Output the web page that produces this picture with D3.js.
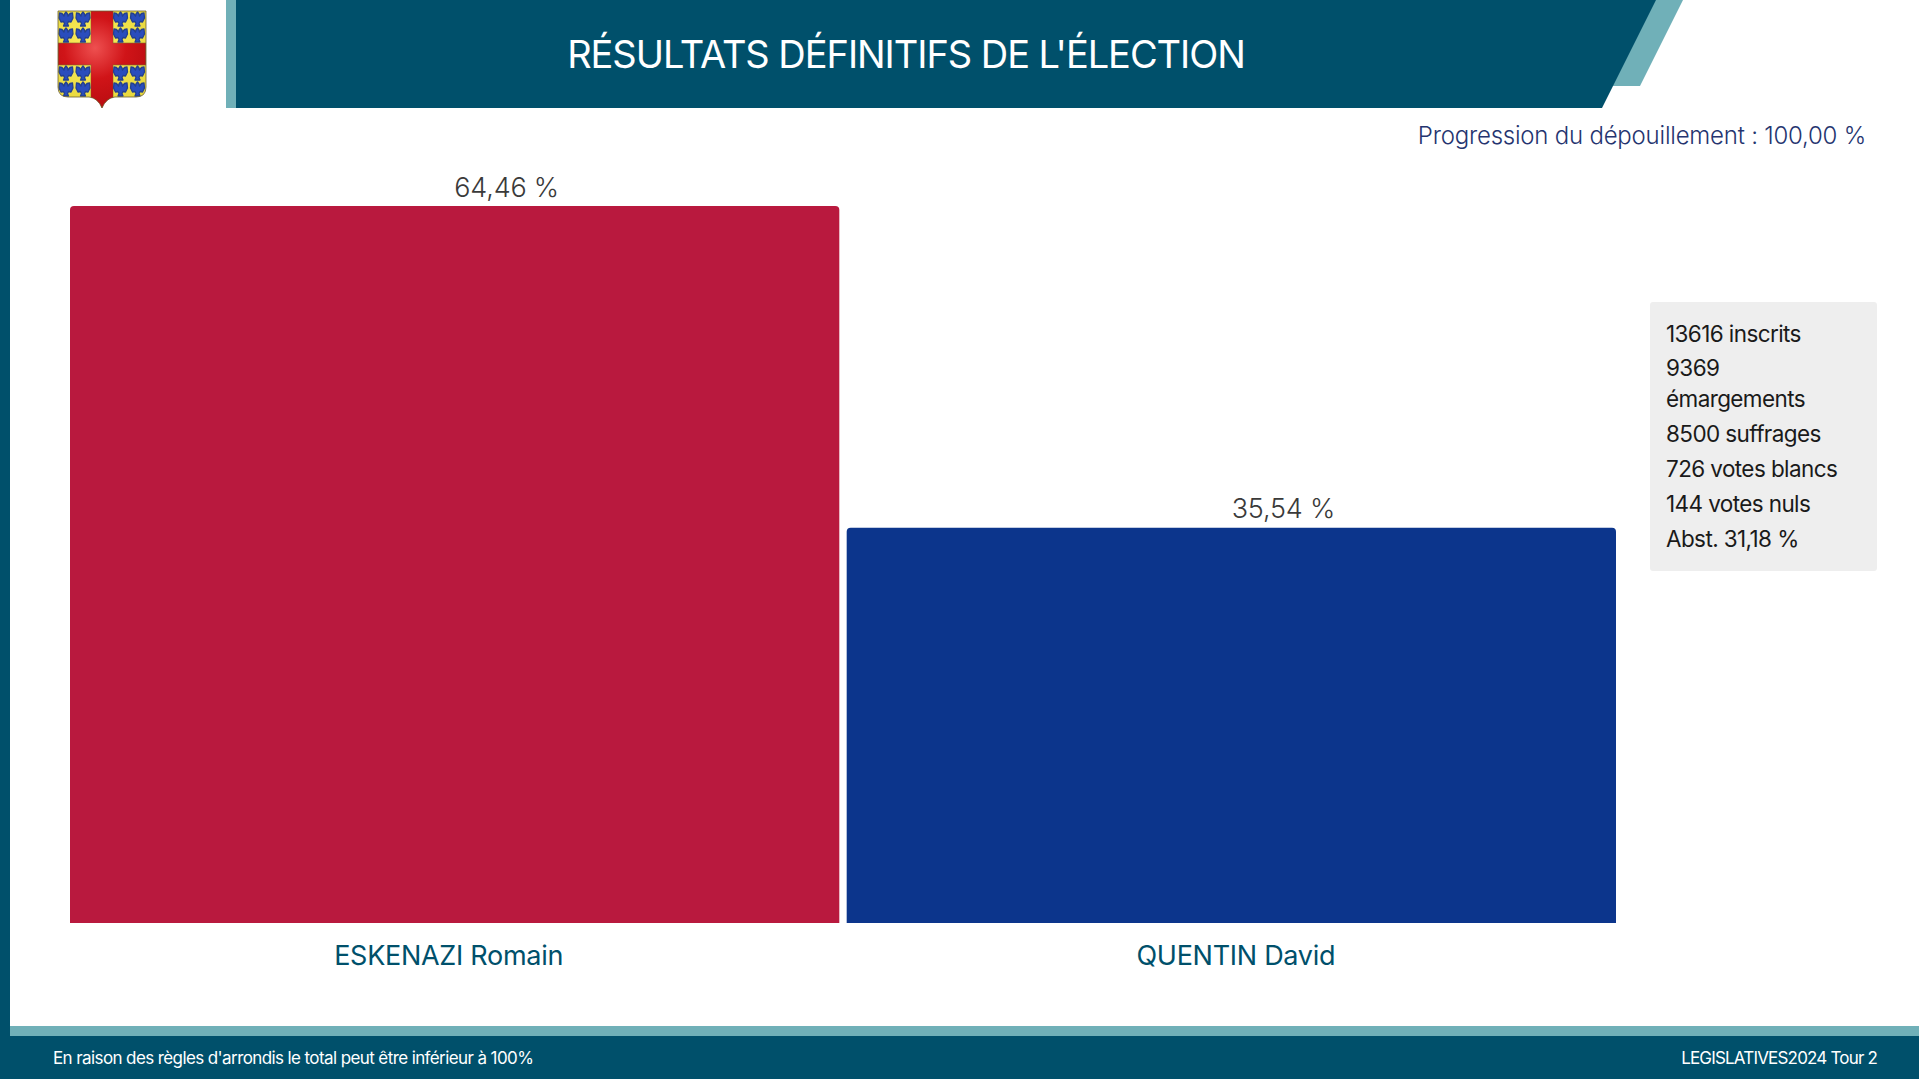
<!DOCTYPE html>
<html><head><meta charset="utf-8">
<script src="https://cdn.jsdelivr.net/npm/d3@7/dist/d3.min.js"></script>
<style>html,body{margin:0;padding:0;background:#fff;overflow:hidden}svg{display:block}text{font-family:Inter,"Open Sans",sans-serif}</style>
</head><body><div id="chart"></div>
<script>
const candidates = ["ESKENAZI Romain", "QUENTIN David"];
const percentages = [64.46, 35.54];
const percentLabels = ["64,46 %", "35,54 %"];
const barColors = ["#b9193e", "#0c358c"];
const statsLines = ["13616 inscrits", "9369", "émargements", "8500 suffrages", "726 votes blancs", "144 votes nuls", "Abst. 31,18 %"];
const titleText = "RÉSULTATS DÉFINITIFS DE L'ÉLECTION";
const progressText = "Progression du dépouillement : 100,00 %";
const footLeft = "En raison des règles d'arrondis le total peut être inférieur à 100%";
const footRight = "LEGISLATIVES2024 Tour 2";

const W = 1919, H = 1079, dark = "#00506b", teal = "#70b0b8";
const svg = d3.select("#chart").append("svg").attr("width", W).attr("height", H);

const x = d3.scaleBand().domain(candidates).range([70, 1616]).paddingInner(0.0095);
const y = d3.scaleLinear().domain([0, 64.46]).range([923, 206]);

// frame
svg.append("rect").attr("x", 0).attr("y", 0).attr("width", 10).attr("height", H).attr("fill", dark);
svg.append("rect").attr("x", 226).attr("y", 0).attr("width", 10).attr("height", 108).attr("fill", teal);
svg.append("path").attr("d", "M1640,0L1683,0L1640,86L1600,86Z").attr("fill", teal);
svg.append("path").attr("d", "M236,0L1656,0L1602,108L236,108Z").attr("fill", dark);
svg.append("rect").attr("x", 10).attr("y", 1026).attr("width", W - 10).attr("height", 10).attr("fill", teal);
svg.append("rect").attr("x", 0).attr("y", 1036).attr("width", W).attr("height", 43).attr("fill", dark);

// header text
svg.append("text").attr("x", 906).attr("y", 68).attr("text-anchor", "middle").attr("font-size", 38).attr("letter-spacing", -1.05).attr("fill", "#fff").text(titleText);
svg.append("text").attr("x", 1866).attr("y", 143.5).attr("text-anchor", "end").attr("font-size", 24).attr("font-weight", 300).attr("letter-spacing", -0.22).attr("fill", "#25346f").text(progressText);

// bars
const barPath = d => {
  const x0 = x(d.name), w = x.bandwidth(), t = y(d.value), b = y(0), r = 4;
  return `M${x0},${b}V${t + r}Q${x0},${t} ${x0 + r},${t}H${x0 + w - r}Q${x0 + w},${t} ${x0 + w},${t + r}V${b}Z`;
};
const rows = candidates.map((name, i) => ({name, value: percentages[i], label: percentLabels[i], color: barColors[i]}));
svg.selectAll("path.bar").data(rows).join("path").attr("class", "bar").attr("d", barPath).attr("fill", d => d.color);
svg.selectAll("text.val").data(rows).join("text").attr("class", "val")
  .attr("x", d => x(d.name) + x.bandwidth() / 2 + 52).attr("y", d => y(d.value) - 9.5)
  .attr("text-anchor", "middle").attr("font-size", 27).attr("font-weight", 300).attr("letter-spacing", -0.2).attr("fill", "#3a3a3a").text(d => d.label);
svg.selectAll("text.cat").data(rows).join("text").attr("class", "cat")
  .attr("x", (d, i) => x(d.name) + x.bandwidth() / 2 + (i ? 4.5 : -6)).attr("y", 965)
  .attr("text-anchor", "middle").attr("font-size", 27).attr("letter-spacing", -0.28).attr("fill", dark).text(d => d.name);

// stats box
svg.append("rect").attr("x", 1650).attr("y", 302).attr("width", 227).attr("height", 269).attr("rx", 3).attr("fill", "#eeeeee");
const statY = [342, 376, 407, 442, 477, 512, 547];
svg.selectAll("text.stat").data(statsLines).join("text").attr("class", "stat")
  .attr("x", 1666).attr("y", (d, i) => statY[i]).attr("font-size", 22.5).attr("letter-spacing", -0.6).attr("fill", "#1a1a1a").text(d => d);

// footer
svg.append("text").attr("x", 53).attr("y", 1064).attr("font-size", 17).attr("letter-spacing", -0.6).attr("fill", "#fff").text(footLeft);
svg.append("text").attr("x", 1877).attr("y", 1064).attr("text-anchor", "end").attr("font-size", 17).attr("letter-spacing", -0.82).attr("fill", "#fff").text(footRight);

// coat of arms
const defs = svg.append("defs");
const g1 = defs.append("radialGradient").attr("id", "crest").attr("gradientUnits", "userSpaceOnUse").attr("cx", 95).attr("cy", 48).attr("r", 62);
g1.append("stop").attr("offset", "0").attr("stop-color", "#ee5050");
g1.append("stop").attr("offset", "0.5").attr("stop-color", "#d01418");
g1.append("stop").attr("offset", "1").attr("stop-color", "#b80c10");
const g2 = defs.append("radialGradient").attr("id", "gold").attr("gradientUnits", "userSpaceOnUse").attr("cx", 95).attr("cy", 48).attr("r", 70);
g2.append("stop").attr("offset", "0").attr("stop-color", "#fff060");
g2.append("stop").attr("offset", "1").attr("stop-color", "#e4d438");
const shield = "M58,11H146V87Q146,97 136,97H115Q106,98 102,108Q98,98 89,97H68Q58,97 58,87Z";
defs.append("clipPath").attr("id", "sh").append("path").attr("d", shield);
defs.append("path").attr("id", "eagle").attr("fill", "#2a4dbd").attr("stroke", "#24408f").attr("stroke-width", 1.3).attr("stroke-linejoin", "round")
  .attr("d", "M0,-7L1.5,-5L2,-3L4,-5.5L6.5,-6L7,-1L5,3L2.5,2.5L1.5,4.5L2.5,7L-2.5,7L-1.5,4.5L-2.5,2.5L-5,3L-7,-1L-6.5,-6L-4,-5.5L-2,-3L-1.5,-5Z");
const arms = svg.append("g").attr("clip-path", "url(#sh)");
arms.append("path").attr("d", shield).attr("fill", "url(#gold)");
arms.append("rect").attr("x", 91).attr("y", 11).attr("width", 22).attr("height", 97).attr("fill", "url(#crest)").attr("stroke", "#7a6a30").attr("stroke-width", 0.6);
arms.append("rect").attr("x", 58).attr("y", 43).attr("width", 88).attr("height", 22).attr("fill", "url(#crest)").attr("stroke", "#7a6a30").attr("stroke-width", 0.6);
arms.append("rect").attr("x", 91.4).attr("y", 11).attr("width", 21.2).attr("height", 97).attr("fill", "url(#crest)");
[66, 83, 120.5, 137.5].forEach(ex => [19, 35, 73, 89].forEach(ey =>
  arms.append("use").attr("href", "#eagle").attr("x", ex).attr("y", ey)));
svg.append("path").attr("d", shield).attr("fill", "none").attr("stroke", "#6d5f30").attr("stroke-width", 0.8);
</script></body></html>
